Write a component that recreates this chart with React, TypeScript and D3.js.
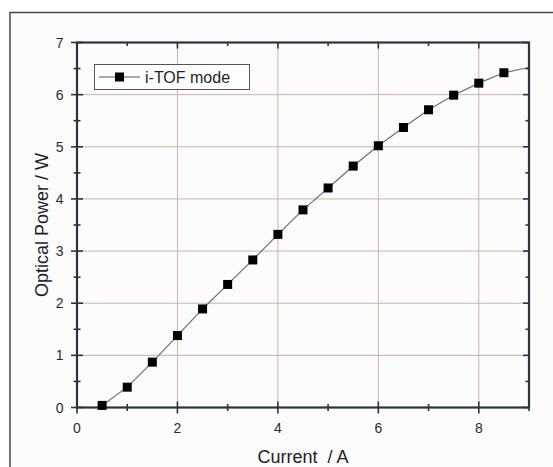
import React, { useEffect, useRef } from "react";
import * as d3 from "d3";

const currents = [0.5, 1.0, 1.5, 2.0, 2.5, 3.0, 3.5, 4.0, 4.5, 5.0, 5.5, 6.0, 6.5, 7.0, 7.5, 8.0, 8.5];
const powers = [0.04, 0.39, 0.87, 1.38, 1.89, 2.36, 2.83, 3.32, 3.79, 4.21, 4.63, 5.02, 5.37, 5.71, 5.99, 6.22, 6.42];
const lineExtensionX = [9.0];
const lineExtensionY = [6.52];
const xTicks = [0, 2, 4, 6, 8];
const yTicks = [0, 1, 2, 3, 4, 5, 6, 7];
const legendLabel = "i-TOF mode";
const xTitle = "Current  / A";
const yTitle = "Optical Power / W";

const W = 553;
const H = 467;
const M = { left: 77, right: 529, top: 42.5, bottom: 407.5 };
const AXIS = "#2b3240";
const GRID = "#cbb2a6";
const FONT = "'Liberation Sans', Arial, sans-serif";

export default function App() {
  const ref = useRef<SVGSVGElement>(null);
  useEffect(() => {
    const svg = d3.select(ref.current);
    svg.selectAll("*").remove();
    const x = d3.scaleLinear().domain([0, 9]).range([M.left, M.right]);
    const y = d3.scaleLinear().domain([0, 7]).range([M.bottom, M.top]);

    svg.append("rect").attr("width", W).attr("height", H).attr("fill", "#ffffff");
    // outer frame
    svg.append("rect").attr("x", 10).attr("y", 12.5).attr("width", 700).attr("height", 600)
      .attr("fill", "#fcfcfd").attr("stroke", "#464646").attr("stroke-width", 1.5);

    // grid
    const g = svg.append("g");
    xTicks.filter(t => t > 0).forEach(t => {
      g.append("line").attr("x1", x(t)).attr("x2", x(t)).attr("y1", M.top).attr("y2", M.bottom)
        .attr("stroke", GRID).attr("stroke-width", 1);
    });
    yTicks.filter(t => t > 0 && t < 7).forEach(t => {
      g.append("line").attr("x1", M.left).attr("x2", M.right).attr("y1", y(t)).attr("y2", y(t))
        .attr("stroke", GRID).attr("stroke-width", 1);
    });

    // data line
    const pts: [number, number][] = currents.map((c, i) => [c, powers[i]]);
    const linePts = pts.concat(lineExtensionX.map((c, i) => [c, lineExtensionY[i]] as [number, number]));
    const line = d3.line<[number, number]>().x(d => x(d[0])).y(d => y(d[1]));
    svg.append("path").attr("d", line(linePts) as string).attr("fill", "none")
      .attr("stroke", "#707070").attr("stroke-width", 1.2);

    // axes box
    const ax = svg.append("g").attr("stroke", AXIS).attr("stroke-width", 2.2);
    ax.append("rect").attr("x", M.left).attr("y", M.top).attr("width", M.right - M.left)
      .attr("height", M.bottom - M.top).attr("fill", "none");

    const xMajor = d3.range(0, 9.01, 2);
    const xMinor = d3.range(1, 9.01, 2);
    const yMajor = d3.range(0, 7.01, 1);
    const yMinor = d3.range(0.5, 7, 1);
    const tk = svg.append("g").attr("stroke", AXIS).attr("stroke-width", 1.6);
    // bottom
    xMajor.forEach(t => tk.append("line").attr("x1", x(t)).attr("x2", x(t)).attr("y1", M.bottom - 6).attr("y2", M.bottom + 6));
    xMinor.forEach(t => tk.append("line").attr("x1", x(t)).attr("x2", x(t)).attr("y1", M.bottom - 3.5).attr("y2", M.bottom + 3.5));
    // top
    xMajor.forEach(t => tk.append("line").attr("x1", x(t)).attr("x2", x(t)).attr("y1", M.top).attr("y2", M.top + 6));
    xMinor.forEach(t => tk.append("line").attr("x1", x(t)).attr("x2", x(t)).attr("y1", M.top).attr("y2", M.top + 3.5));
    // left
    yMajor.forEach(t => tk.append("line").attr("y1", y(t)).attr("y2", y(t)).attr("x1", M.left - 6).attr("x2", M.left + 6));
    yMinor.forEach(t => tk.append("line").attr("y1", y(t)).attr("y2", y(t)).attr("x1", M.left - 3.5).attr("x2", M.left + 3.5));
    // right
    yMajor.forEach(t => tk.append("line").attr("y1", y(t)).attr("y2", y(t)).attr("x1", M.right - 6).attr("x2", M.right));
    yMinor.forEach(t => tk.append("line").attr("y1", y(t)).attr("y2", y(t)).attr("x1", M.right - 3.5).attr("x2", M.right));

    // markers
    svg.append("g").selectAll("rect").data(pts).join("rect")
      .attr("x", d => x(d[0]) - 4.5).attr("y", d => y(d[1]) - 4.5)
      .attr("width", 9).attr("height", 9).attr("fill", "#000");

    // tick labels
    const tl = svg.append("g").attr("font-family", FONT).attr("font-size", 14).attr("fill", "#2a2a2a");
    xTicks.forEach(t => tl.append("text").attr("x", x(t)).attr("y", M.bottom + 25).attr("text-anchor", "middle").text(String(t)));
    yTicks.forEach(t => tl.append("text").attr("x", M.left - 13.5).attr("y", y(t) + 5).attr("text-anchor", "end").text(String(t)));

    // titles
    svg.append("text").attr("x", (M.left + M.right) / 2).attr("y", 463).attr("text-anchor", "middle")
      .attr("font-family", FONT).attr("font-size", 18).attr("fill", "#1e1e1e").attr("xml:space", "preserve")
      .style("white-space", "pre").text(xTitle);
    svg.append("text").attr("transform", `translate(48,${(M.top + M.bottom) / 2}) rotate(-90)`)
      .attr("text-anchor", "middle").attr("font-family", FONT).attr("font-size", 18).attr("fill", "#1e1e1e")
      .text(yTitle);

    // legend
    const lg = svg.append("g");
    lg.append("rect").attr("x", 94.5).attr("y", 64.5).attr("width", 155).attr("height", 25)
      .attr("fill", "#fff").attr("stroke", "#555").attr("stroke-width", 1);
    lg.append("line").attr("x1", 99).attr("x2", 140).attr("y1", 77).attr("y2", 77)
      .attr("stroke", "#555").attr("stroke-width", 1.2);
    lg.append("rect").attr("x", 115).attr("y", 72.5).attr("width", 9).attr("height", 9).attr("fill", "#000");
    lg.append("text").attr("x", 145).attr("y", 83).attr("font-family", FONT).attr("font-size", 16)
      .attr("fill", "#1e1e1e").text(legendLabel);
  }, []);
  return (
    <svg ref={ref} width={W} height={H} style={{ position: "absolute", left: 0, top: 0, display: "block" }} />
  );
}
